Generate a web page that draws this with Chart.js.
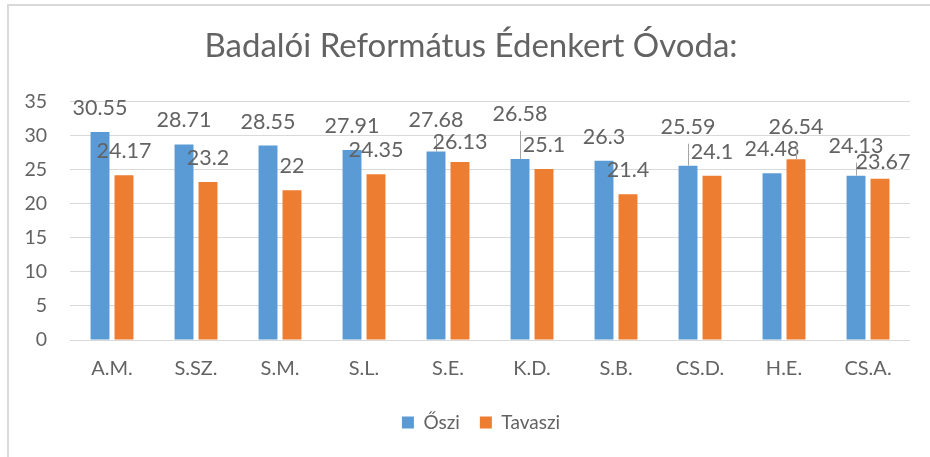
<!DOCTYPE html>
<html>
<head>
<meta charset="utf-8">
<script src="https://cdn.jsdelivr.net/npm/chart.js@4/dist/chart.umd.min.js"></script>
<style>
    html, body { margin: 0; padding: 0; background: #fff; }
    #wrap { position: relative; width: 930px; height: 457px; }
    #frame {
        position: absolute; left: 7px; top: 4px; right: -10px; bottom: -10px;
        border-top: 2px solid #d9d9d9; border-left: 2px solid #d9d9d9;
        pointer-events: none;
    }
</style>
</head>
<body>
<div id="wrap">
    <canvas id="barChart" width="930" height="457"></canvas>
    <div id="frame"></div>
</div>
<script>
const categories = ['A.M.', 'S.SZ.', 'S.M.', 'S.L.', 'S.E.', 'K.D.', 'S.B.', 'CS.D.', 'H.E.', 'CS.A.'];
const oszi = [30.55, 28.71, 28.55, 27.91, 27.68, 26.58, 26.3, 25.59, 24.48, 24.13];
const tavaszi = [24.17, 23.2, 22, 24.35, 26.13, 25.1, 21.4, 24.1, 26.54, 23.67];
const yTicks = [0, 5, 10, 15, 20, 25, 30, 35];

const inkColor = '#636363';
const gridColor = '#d9d9d9';
const fontFamily = 'Lato, "Open Sans", sans-serif';

// Excel moved some labels to avoid overlaps; lift = extra px above the default spot.
const labelNudges = [
    { 'S.E.': { lift: 7 }, 'K.D.': { lift: 21 }, 'CS.D.': { lift: 15 }, 'CS.A.': { lift: 6 } },
    { 'S.E.': { lift: -4 }, 'H.E.': { lift: 8 }, 'CS.A.': { lift: -7, dx: 3 } },
];

const valueLabels = {
    id: 'valueLabels',
    afterDatasetsDraw(chart, args, opts) {
        const ctx = chart.ctx;
        ctx.save();
        ctx.font = opts.size + 'px ' + fontFamily;
        ctx.textAlign = 'center';
        ctx.textBaseline = 'alphabetic';
        chart.data.datasets.forEach((ds, di) => {
            const meta = chart.getDatasetMeta(di);
            meta.data.forEach((bar, i) => {
                const n = labelNudges[di][categories[i]] || {};
                const lift = n.lift || 0;
                const y = bar.y - opts.gap - lift;
                if (lift >= 5) {
                    ctx.strokeStyle = '#a6a6a6';
                    ctx.lineWidth = 1;
                    ctx.beginPath();
                    ctx.moveTo(Math.round(bar.x) + 0.5, y + 10);
                    ctx.lineTo(Math.round(bar.x) + 0.5, bar.y);
                    ctx.stroke();
                }
                ctx.fillStyle = inkColor;
                ctx.fillText(String(ds.data[i]), bar.x + (n.dx || 0), y);
            });
        });
        ctx.restore();
    },
};

// Excel centres title and legend on its own (wider) frame, a bit right of ours
const boxShift = {
    id: 'boxShift',
    afterLayout(chart, args, opts) {
        chart.titleBlock.left += opts.title;
        chart.titleBlock.right += opts.title;
        chart.legend.left += opts.legend;
        chart.legend.right += opts.legend;
    },
};

new Chart(document.getElementById('barChart'), {
    type: 'bar',
    data: {
        labels: categories,
        datasets: [
            { label: 'Őszi', data: oszi, backgroundColor: '#5b9bd5' },
            { label: 'Tavaszi', data: tavaszi, backgroundColor: '#ed7d31' },
        ],
    },
    options: {
        responsive: false,
        animation: false,
        events: [],
        categoryPercentage: 0.571,
        barPercentage: 0.79,
        layout: { padding: { left: 0, right: 20, top: 0, bottom: 15 } },
        plugins: {
            title: {
                display: true,
                text: 'Badalói Református Édenkert Óvoda:',
                color: inkColor,
                font: { family: fontFamily, size: 33, weight: 'normal', lineHeight: 1.2 },
                padding: { top: 27, bottom: 35 },
            },
            legend: {
                position: 'bottom',
                labels: {
                    color: inkColor,
                    boxWidth: 12,
                    boxHeight: 12,
                    padding: 20,
                    font: { family: fontFamily, size: 19 },
                },
            },
            boxShift: { title: 16, legend: 26 },
            tooltip: { enabled: false },
            valueLabels: { size: 21.5, gap: 17 },
        },
        scales: {
            x: {
                grid: { display: false },
                border: { display: false },
                ticks: { color: inkColor, padding: 9, font: { family: fontFamily, size: 20 } },
                afterFit(scale) { scale.height = 53; },
            },
            y: {
                min: 0,
                max: 35,
                afterBuildTicks(scale) { scale.ticks = yTicks.map((v) => ({ value: v })); },
                grid: { color: gridColor, drawTicks: false },
                border: { display: false },
                ticks: { color: inkColor, padding: 23, font: { family: fontFamily, size: 19.5 } },
                afterFit(scale) { scale.width = 70; },
            },
        },
    },
    plugins: [valueLabels, boxShift],
});
</script>
</body>
</html>
